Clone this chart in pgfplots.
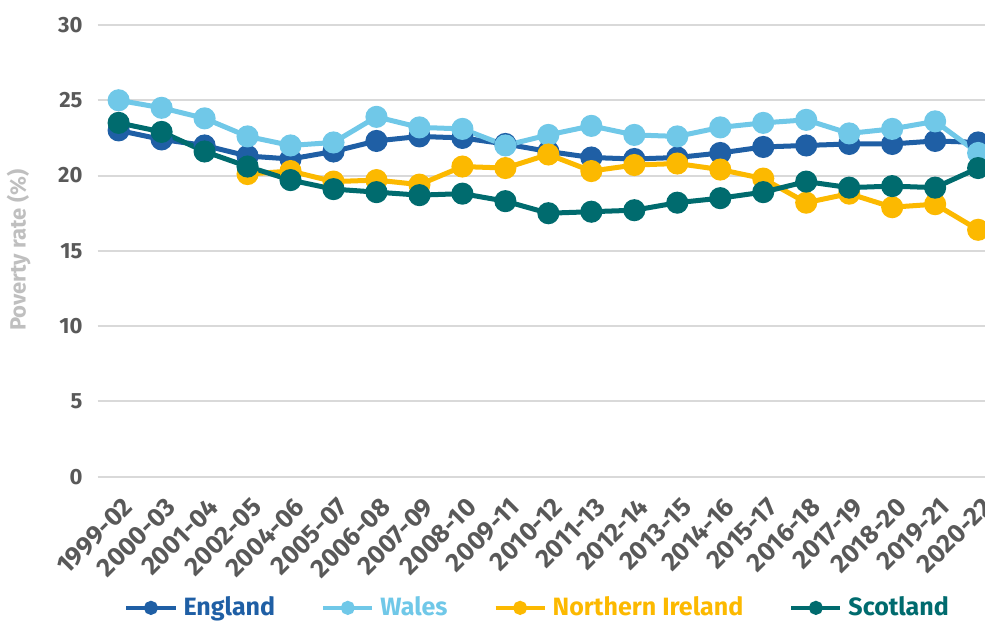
\documentclass[border=0pt]{standalone}
\usepackage{pgfplots}
\pgfplotsset{compat=1.18}
\usepackage{pgfplotstable}
\usepackage{fontspec}
\setmainfont{Fira Sans}

\definecolor{engl}{RGB}{31,95,165}
\definecolor{wal}{RGB}{112,200,232}
\definecolor{nir}{RGB}{252,185,0}
\definecolor{scot}{RGB}{0,107,110}
\definecolor{ticktext}{RGB}{89,89,89}
\definecolor{labtext}{RGB}{191,191,191}
\definecolor{gridc}{RGB}{217,217,217}

% Poverty rates (%), three-year averages
\pgfplotstableread{
x  england wales scotland
0  23.0 25.0 23.5
1  22.4 24.5 22.9
2  22.0 23.8 21.6
3  21.3 22.6 20.6
4  21.1 22.0 19.7
5  21.6 22.2 19.1
6  22.3 23.9 18.9
7  22.6 23.2 18.7
8  22.5 23.1 18.8
9  22.1 22.0 18.3
10 21.6 22.7 17.5
11 21.2 23.3 17.6
12 21.1 22.7 17.7
13 21.2 22.6 18.2
14 21.5 23.2 18.5
15 21.9 23.5 18.9
16 22.0 23.7 19.6
17 22.1 22.8 19.2
18 22.1 23.1 19.3
19 22.3 23.6 19.2
20 22.2 21.5 20.5
}\gbdata

% Northern Ireland series starts in 2002-05
\pgfplotstableread{
x  ni
3  20.1
4  20.3
5  19.6
6  19.7
7  19.4
8  20.6
9  20.5
10 21.4
11 20.3
12 20.7
13 20.8
14 20.4
15 19.8
16 18.2
17 18.8
18 17.9
19 18.1
20 16.4
}\nidata

\begin{document}
\begin{tikzpicture}[trim axis right]
\begin{axis}[
  scale only axis,
  width=443pt, height=238pt,
  xmin=-0.49, xmax=20.16,
  ymin=0, ymax=31.66,
  axis line style={draw=none},
  tick style={draw=none},
  ytick={0,5,...,30},
  xtick={0,...,20},
  xticklabels={1999-02,2000-03,2001-04,2002-05,2004-06,2005-07,2006-08,2007-09,2008-10,2009-11,2010-12,2011-13,2012-14,2013-15,2014-16,2015-17,2016-18,2017-19,2018-20,2019-21,2020-22},
  /pgf/number format/assume math mode=true,
  ymajorgrids,
  grid style={gridc, line width=1pt},
  major tick length=0pt,
  tick label style={font=\fontsize{11}{13}\selectfont\bfseries, text=ticktext},
  yticklabel style={xshift=-4pt},
  xticklabel style={font=\fontsize{13}{15}\selectfont\bfseries,
    xshift=1.5pt, yshift=-8pt, rotate=45, anchor=north east, inner sep=1pt},
  ylabel={Poverty rate (\%)},
  every axis y label/.style={at={(axis description cs:-0.089,0.475)}, rotate=90, anchor=center,
    font=\fontsize{11}{13}\selectfont\bfseries, text=labtext},
  every axis plot/.append style={line width=2.5pt, mark=*, mark size=4.25pt},
  legend columns=4,
  legend style={at={(axis description cs:0.497,-0.275)}, anchor=center, draw=none, fill=none,
    font=\fontsize{12.5}{14}\selectfont\bfseries,
    /tikz/every even column/.append style={column sep=21pt},
    /tikz/every odd column/.append style={column sep=1pt}},
  legend image code/.code={%
    \draw[#1, line width=2pt, mark size=2.5pt, mark repeat=2, mark phase=2]
      plot coordinates {(0pt,0pt) (12.25pt,0pt) (24.5pt,0pt)};},
]
\addplot[engl, mark options={fill=engl}] table[x=x, y=england] {\gbdata};
\addlegendentry{\textcolor{engl}{England}}
\addplot[wal, mark options={fill=wal}] table[x=x, y=wales] {\gbdata};
\addlegendentry{\textcolor{wal}{Wales}}
\addplot[nir, mark options={fill=nir}] table[x=x, y=ni] {\nidata};
\addlegendentry{\textcolor{nir}{Northern Ireland}}
\addplot[scot, mark options={fill=scot}] table[x=x, y=scotland] {\gbdata};
\addlegendentry{\textcolor{scot}{Scotland}}
\path (axis description cs:-0.1117,0);
\end{axis}
\end{tikzpicture}
\end{document}
